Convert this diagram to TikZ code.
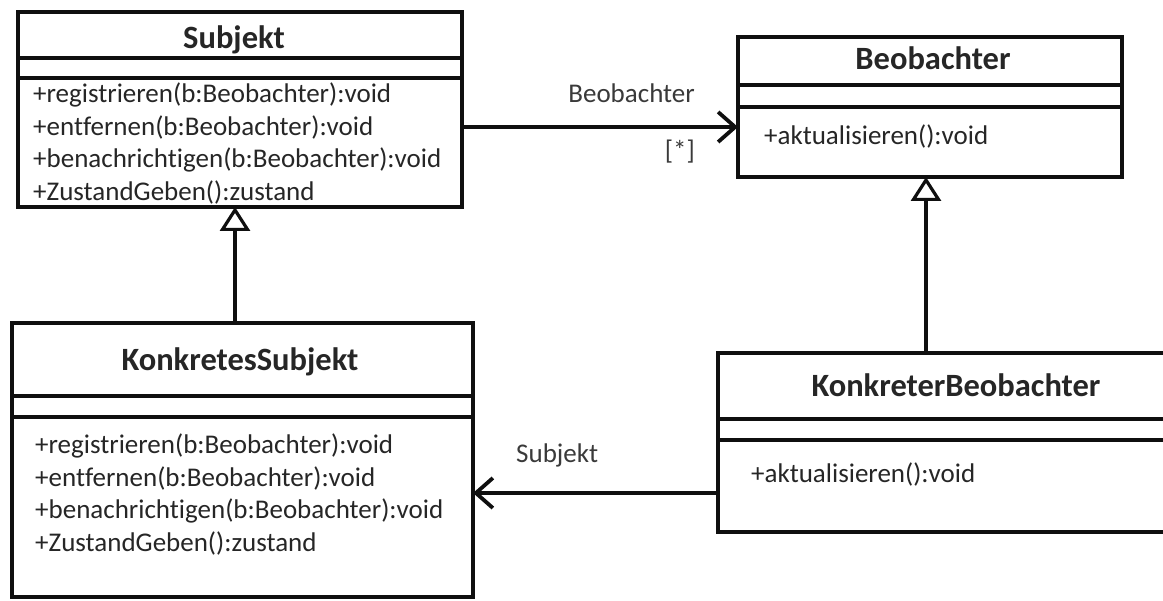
\documentclass[tikz,border=0pt]{standalone}
\usepackage{fontspec}
\setmainfont{Carlito}[Ligatures=NoCommon]
\usetikzlibrary{arrows.meta,calc}
\definecolor{ink}{HTML}{0F0F0F}
\definecolor{txt}{HTML}{262626}
\definecolor{lbl}{HTML}{3A3A3A}
\begin{document}
\begin{tikzpicture}[x=1pt,y=-1pt,
  classbox/.style={draw=ink, line width=3.8pt, fill=white, inner sep=0pt, outer sep=0pt},
  divider/.style={draw=ink, line width=3.8pt},
  classname/.style={font=\fontsize{32.5}{36}\selectfont\bfseries, text=txt, anchor=base, inner sep=0pt},
  member/.style={font=\fontsize{27}{32}\selectfont, text=txt, anchor=base west, inner sep=0pt},
  rolelabel/.style={font=\fontsize{27}{32}\selectfont, text=lbl, inner sep=0pt},
  assoc/.style={draw=ink, line width=3.8pt, -{Straight Barb[length=17pt,width=30pt]}},
  gen/.style={draw=ink, line width=3.2pt, -{Triangle[open,length=24pt,width=30pt,fill=white]}}]

\clip (0,0) rectangle (1163,601);
\fill[white] (0,0) rectangle (1163,601);

% --- class boxes ---
\node[classbox, minimum width=444pt, minimum height=195pt] (subj)  at (240,109.5) {};
\node[classbox, minimum width=461pt, minimum height=274pt] (ksubj) at (242.5,460) {};
\node[classbox, minimum width=384pt, minimum height=140pt] (beo)   at (930,107) {};
\node[classbox, minimum width=482pt, minimum height=179pt] (kbeo)  at (959,442.5) {};

% --- compartment dividers ---
\draw[divider] ($(subj.north west)+(0,46)$) -- ++(444,0);
\draw[divider] ($(subj.north west)+(0,66)$) -- ++(444,0);
\draw[divider] ($(ksubj.north west)+(0,73)$) -- ++(461,0);
\draw[divider] ($(ksubj.north west)+(0,94)$) -- ++(461,0);
\draw[divider] ($(beo.north west)+(0,48)$) -- ++(384,0);
\draw[divider] ($(beo.north west)+(0,70)$) -- ++(384,0);
\draw[divider] ($(kbeo.north west)+(0,66)$) -- ++(482,0);
\draw[divider] ($(kbeo.north west)+(0,87)$) -- ++(482,0);

% --- class names ---
\node[classname] (subjname)  at (234,49)  {Subjekt};
\node[classname] (ksubjname) at (240,371) {KonkretesSubjekt};
\node[classname] (beoname)   at (933,70)  {Beobachter};
\node[classname] (kbeoname)  at (956,397) {KonkreterBeobachter};

% --- operations ---
\node[member] (s1) at (33,103)   {+registrieren(b:Beobachter):void};
\node[member] (s2) at (33,135.5) {+entfernen(b:Beobachter):void};
\node[member] (s3) at (33,168)   {+benachrichtigen(b:Beobachter):void};
\node[member] (s4) at (33,200.5) {+ZustandGeben():zustand};

\node[member] (k1) at (35,454) {+registrieren(b:Beobachter):void};
\node[member] (k2) at (35,487) {+entfernen(b:Beobachter):void};
\node[member] (k3) at (35,519) {+benachrichtigen(b:Beobachter):void};
\node[member] (k4) at (35,552) {+ZustandGeben():zustand};

\node[member] (b1)  at (764,145) {+aktualisieren():void};
\node[member] (kb1) at (751,483) {+aktualisieren():void};

% --- associations ---
\coordinate (a1) at ($(subj.east)+(0,17.5)$);
\draw[assoc] (a1) -- (a1 -| beo.west);
\node[rolelabel, anchor=base east] (role1) at (695,103) {Beobachter};
\node[rolelabel, anchor=base east] (mult1) at (695,160) {[*]};

\coordinate (a2) at ($(kbeo.west)+(0,50.5)$);
\draw[assoc] (a2) -- (a2 -| ksubj.east);
\node[rolelabel, anchor=base west] (role2) at (516,463) {Subjekt};

% --- generalizations ---
\coordinate (g1) at ($(ksubj.north)+(-7.5,0)$);
\draw[gen] (g1) -- (g1 |- subj.south);
\coordinate (g2) at ($(kbeo.north)+(-33,0)$);
\draw[gen] (g2) -- (g2 |- beo.south);
\end{tikzpicture}
\end{document}
